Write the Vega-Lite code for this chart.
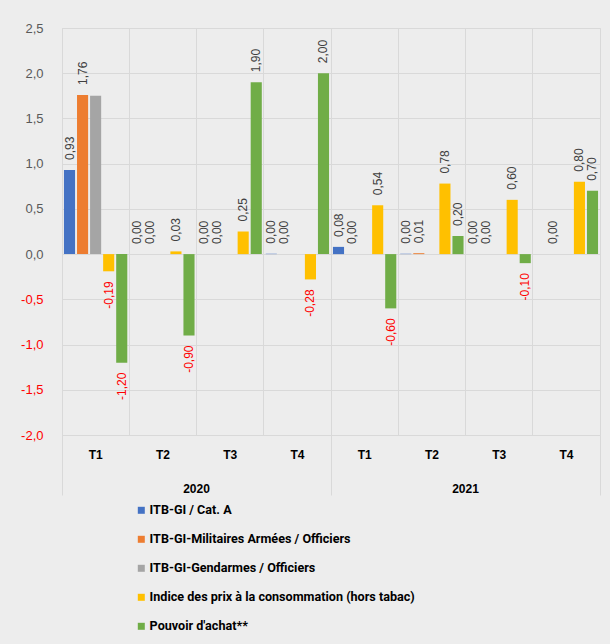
{
  "$schema": "https://vega.github.io/schema/vega-lite/v6.json",
  "width": 538,
  "height": 407,
  "autosize": {"type": "none"},
  "padding": {"left": 62, "top": 28, "right": 10, "bottom": 209},
  "background": "#ededed",
  "config": {
    "locale": {"number": {"decimal": ",", "thousands": " ", "grouping": [3], "currency": ["", " €"], "minus": "-"}},
    "view": {"stroke": "#d9d9d9", "strokeWidth": 1},
    "font": "Liberation Sans"
  },
  "data": {
    "values": [
      {"key": "2020 T1", "series": "ITB-GI / Cat. A", "value": 0.93},
      {"key": "2020 T1", "series": "ITB-GI-Militaires Armées / Officiers", "value": 1.76},
      {"key": "2020 T1", "series": "ITB-GI-Gendarmes / Officiers", "value": 1.75},
      {"key": "2020 T1", "series": "Indice des prix à la consommation (hors tabac)", "value": -0.19},
      {"key": "2020 T1", "series": "Pouvoir d'achat**", "value": -1.2},
      {"key": "2020 T2", "series": "ITB-GI / Cat. A", "value": 0},
      {"key": "2020 T2", "series": "ITB-GI-Militaires Armées / Officiers", "value": 0},
      {"key": "2020 T2", "series": "ITB-GI-Gendarmes / Officiers", "value": 0},
      {"key": "2020 T2", "series": "Indice des prix à la consommation (hors tabac)", "value": 0.03},
      {"key": "2020 T2", "series": "Pouvoir d'achat**", "value": -0.9},
      {"key": "2020 T3", "series": "ITB-GI / Cat. A", "value": 0},
      {"key": "2020 T3", "series": "ITB-GI-Militaires Armées / Officiers", "value": 0},
      {"key": "2020 T3", "series": "ITB-GI-Gendarmes / Officiers", "value": 0},
      {"key": "2020 T3", "series": "Indice des prix à la consommation (hors tabac)", "value": 0.25},
      {"key": "2020 T3", "series": "Pouvoir d'achat**", "value": 1.9},
      {"key": "2020 T4", "series": "ITB-GI / Cat. A", "value": 0.004},
      {"key": "2020 T4", "series": "ITB-GI-Militaires Armées / Officiers", "value": 0},
      {"key": "2020 T4", "series": "ITB-GI-Gendarmes / Officiers", "value": 0},
      {"key": "2020 T4", "series": "Indice des prix à la consommation (hors tabac)", "value": -0.28},
      {"key": "2020 T4", "series": "Pouvoir d'achat**", "value": 2.0},
      {"key": "2021 T1", "series": "ITB-GI / Cat. A", "value": 0.08},
      {"key": "2021 T1", "series": "ITB-GI-Militaires Armées / Officiers", "value": 0},
      {"key": "2021 T1", "series": "ITB-GI-Gendarmes / Officiers", "value": 0},
      {"key": "2021 T1", "series": "Indice des prix à la consommation (hors tabac)", "value": 0.54},
      {"key": "2021 T1", "series": "Pouvoir d'achat**", "value": -0.6},
      {"key": "2021 T2", "series": "ITB-GI / Cat. A", "value": 0.004},
      {"key": "2021 T2", "series": "ITB-GI-Militaires Armées / Officiers", "value": 0.01},
      {"key": "2021 T2", "series": "ITB-GI-Gendarmes / Officiers", "value": 0},
      {"key": "2021 T2", "series": "Indice des prix à la consommation (hors tabac)", "value": 0.78},
      {"key": "2021 T2", "series": "Pouvoir d'achat**", "value": 0.2},
      {"key": "2021 T3", "series": "ITB-GI / Cat. A", "value": 0},
      {"key": "2021 T3", "series": "ITB-GI-Militaires Armées / Officiers", "value": 0},
      {"key": "2021 T3", "series": "ITB-GI-Gendarmes / Officiers", "value": 0},
      {"key": "2021 T3", "series": "Indice des prix à la consommation (hors tabac)", "value": 0.6},
      {"key": "2021 T3", "series": "Pouvoir d'achat**", "value": -0.1},
      {"key": "2021 T4", "series": "ITB-GI / Cat. A", "value": null},
      {"key": "2021 T4", "series": "ITB-GI-Militaires Armées / Officiers", "value": 0},
      {"key": "2021 T4", "series": "ITB-GI-Gendarmes / Officiers", "value": 0},
      {"key": "2021 T4", "series": "Indice des prix à la consommation (hors tabac)", "value": 0.8},
      {"key": "2021 T4", "series": "Pouvoir d'achat**", "value": 0.7}
    ]
  },
  "layer": [
    {
      "mark": {"type": "bar"},
      "encoding": {
        "x": {
          "field": "key", "type": "nominal",
          "scale": {"domain": ["2020 T1", "2020 T2", "2020 T3", "2020 T4", "2021 T1", "2021 T2", "2021 T3", "2021 T4"], "paddingInner": 0, "paddingOuter": 0},
          "axis": {
            "title": null, "bandPosition": 0, "labelAngle": 0,
            "labelExpr": "split(datum.label, ' ')[1]",
            "labelFontWeight": "bold", "labelFontSize": 12, "labelColor": "#000000",
            "labelPadding": {"condition": {"test": "datum.value === '2020 T1' || datum.value === '2021 T1'", "value": -46}, "value": 14},
            "domain": false, "grid": true, "gridColor": "#d9d9d9", "tickColor": "#d9d9d9", "tickWidth": 1,
            "tickSize": {"condition": {"test": "datum.value === '2020 T1' || datum.value === '2021 T1'", "value": 60}, "value": 0}
          }
        },
        "xOffset": {
          "field": "series", "type": "nominal",
          "scale": {"domain": ["ITB-GI / Cat. A", "ITB-GI-Militaires Armées / Officiers", "ITB-GI-Gendarmes / Officiers", "Indice des prix à la consommation (hors tabac)", "Pouvoir d'achat**"], "paddingInner": 0.15, "paddingOuter": 0.15}
        },
        "y": {
          "field": "value", "type": "quantitative",
          "scale": {"domain": [-2, 2.5], "nice": false},
          "axis": {
            "title": null, "values": [-2, -1.5, -1, -0.5, 0, 0.5, 1, 1.5, 2, 2.5], "format": ".1f",
            "domain": false, "ticks": false, "labelPadding": 19, "labelFontSize": 13,
            "labelColor": {"condition": {"test": "datum.value < 0", "value": "#ff0000"}, "value": "#595959"},
            "gridColor": "#d9d9d9"
          }
        },
        "color": {
          "field": "series", "type": "nominal",
          "scale": {
            "domain": ["ITB-GI / Cat. A", "ITB-GI-Militaires Armées / Officiers", "ITB-GI-Gendarmes / Officiers", "Indice des prix à la consommation (hors tabac)", "Pouvoir d'achat**"],
            "range": ["#4472c4", "#ed7d31", "#a5a5a5", "#ffc000", "#70ad47"]
          },
          "legend": {
            "orient": "none", "legendX": 73, "legendY": 476, "direction": "vertical", "title": null,
            "symbolType": "square", "symbolSize": 49, "symbolStrokeWidth": 0,
            "labelFont": "Roboto", "labelFontWeight": "bold", "labelFontSize": 12.6,
            "labelColor": "#000000", "rowPadding": 16, "labelOffset": 2, "labelLimit": 400
          }
        }
      }
    },
    {
      "transform": [{"filter": "datum.value != null && datum.value >= 0 && datum.series !== 'ITB-GI-Gendarmes / Officiers'"}],
      "mark": {"type": "text", "angle": 270, "align": "left", "baseline": "middle", "dx": 10, "fontSize": 12, "color": "#404040"},
      "encoding": {
        "x": {
          "field": "key", "type": "nominal",
          "axis": {
            "orient": "bottom", "title": null, "bandPosition": 1, "grid": false, "domain": false, "labelAngle": 0,
            "labelExpr": "datum.value === '2020 T2' ? '2020' : datum.value === '2021 T2' ? '2021' : ''",
            "labelOffset": 33.6,
            "labelFontWeight": "bold", "labelFontSize": 12, "labelColor": "#000000",
            "labelPadding": {"condition": {"test": "datum.value === '2021 T4'", "value": -12}, "value": 48},
            "tickColor": "#d9d9d9", "tickWidth": 1,
            "tickSize": {"condition": {"test": "datum.value === '2021 T4'", "value": 60}, "value": 0}
          }
        },
        "xOffset": {"field": "series", "type": "nominal"},
        "y": {"field": "value", "type": "quantitative"},
        "text": {"field": "value", "type": "quantitative", "format": ".2f"}
      }
    },
    {
      "transform": [{"filter": "datum.value != null && datum.value < 0 && datum.series !== 'ITB-GI-Gendarmes / Officiers'"}],
      "mark": {"type": "text", "angle": 270, "align": "right", "baseline": "middle", "dx": -10, "fontSize": 12, "color": "#ff0000"},
      "encoding": {
        "x": {"field": "key", "type": "nominal", "axis": null},
        "xOffset": {"field": "series", "type": "nominal"},
        "y": {"field": "value", "type": "quantitative"},
        "text": {"field": "value", "type": "quantitative", "format": ".2f"}
      }
    }
  ],
  "resolve": {"axis": {"x": "independent"}}
}
